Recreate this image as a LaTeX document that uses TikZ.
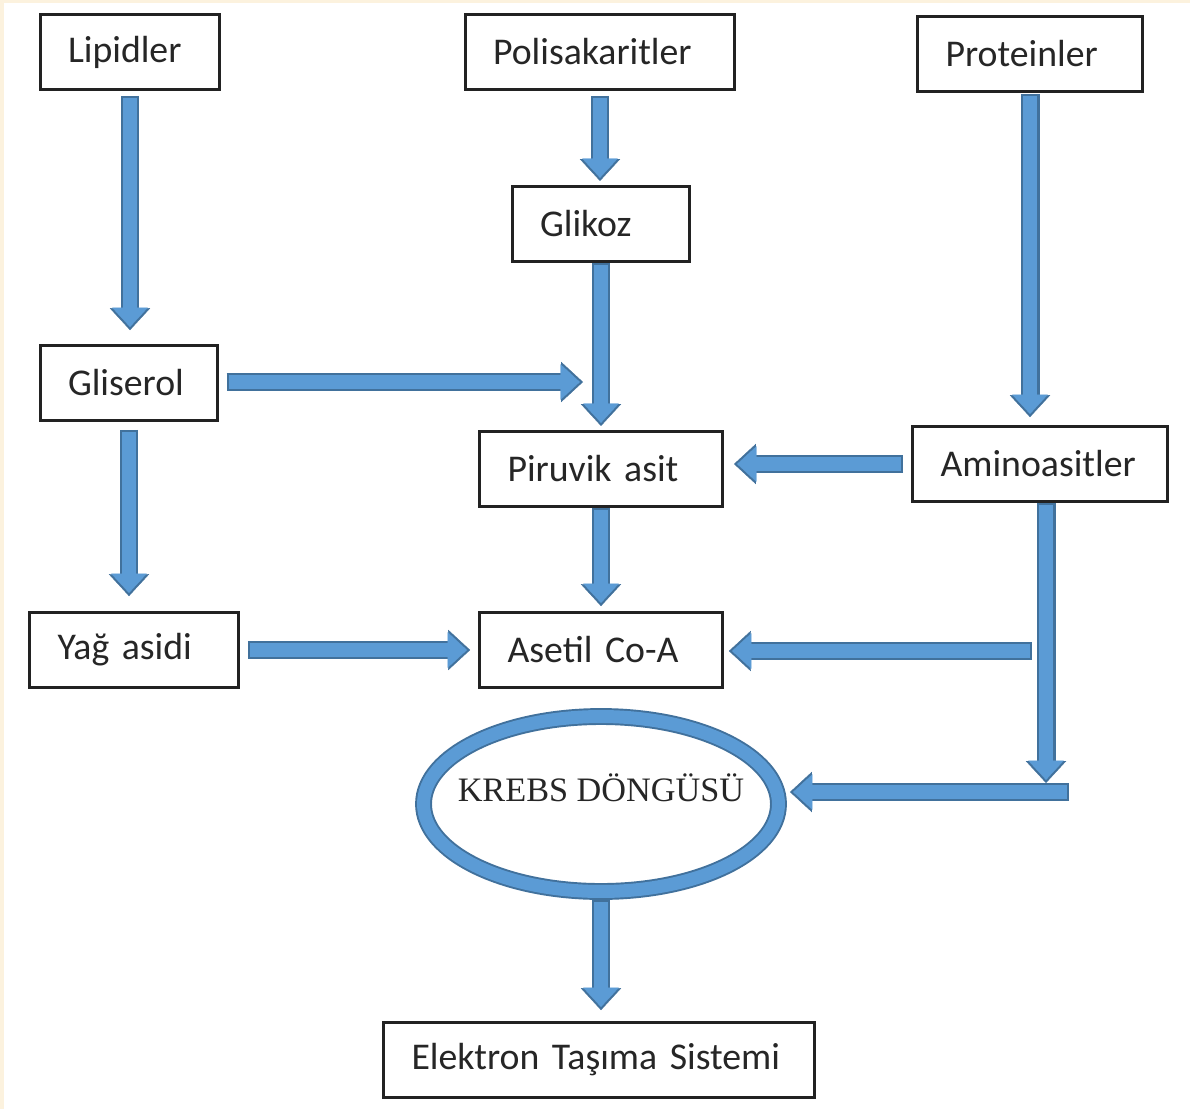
\documentclass[tikz,border=0pt]{standalone}
\usepackage{fontspec}
\setmainfont{Carlito}
\newfontfamily\krebsfont{Liberation Serif}
\usetikzlibrary{arrows.meta,shapes.geometric}
\definecolor{flowfill}{HTML}{5B9BD5}
\definecolor{flowedge}{HTML}{41719C}
\definecolor{boxline}{HTML}{222222}
\definecolor{paper}{HTML}{FCF2DE}
\tikzset{stage/.style={%
        draw=boxline,
        line width=1.7pt,
        minimum height=1.5cm,
        inner xsep=0.56cm,
        align=left,
        text=black!85,
        font=\fontsize{21.5pt}{26pt}\selectfont}}
\tikzset{krebsring/.style={%
        ellipse,
        draw=flowedge,
        line width=1.1pt,
        double=flowfill,
        double distance=7.4pt,
        minimum width=7.1cm,minimum height=3.5cm,
        inner sep=0pt}}
\tikzset{flow/.style 2 args={draw=flowedge,line width=10.8pt,
        shorten <=#1,shorten >=#2,
        -{Triangle[length=12.5pt 0 0,width=23pt 0 0,line width=0.2pt 0 0]},
        postaction={draw=flowfill,line width=8.4pt,
          shorten <=#1+1.2pt,shorten >=#2+1.77pt,
          -{Triangle[length=11pt 0 0,width=20.2pt 0 0,line width=0.2pt 0 0]}}}}

\begin{document}
\begin{tikzpicture}[x=0.02cm,y=-0.02cm]
  \useasboundingbox (0,0) rectangle (1190,1109);
  \fill [paper] (0,0) rectangle (1190,1109);
  \fill [white] (4,3) rectangle (1190,1109);

  \node [stage,text width=2.48cm] (lipid) at (130,52) {Lipidler};
  \node [stage,text width=4.28cm] (polis) at (600,52) {Polisakaritler};
  \node [stage,text width=3.38cm] (prot) at (1030,54) {Proteinler};
  \node [stage,text width=2.44cm] (glikoz) at (601,224) {Glikoz};
  \node [stage,text width=2.44cm] (glis) at (129,383) {Gliserol};
  \node [stage,text width=3.74cm] (piruvik) at (601,469) {Piruvik asit};
  \node [stage,text width=3.98cm] (amino) at (1040,464) {Aminoasitler};
  \node [stage,text width=3.06cm] (yag) at (134,650) {Yağ asidi};
  \node [stage,text width=3.74cm] (asetil) at (601,650) {Asetil Co-A};
  \node [krebsring,label={[font=\krebsfont\fontsize{19.5pt}{23pt}\selectfont,text=black!85,yshift=9pt]center:KREBS DÖNGÜSÜ}] (krebs) at (601,804) {};
  \node [stage,text width=7.5cm] (elektron) at (599,1060) {Elektron Taşıma Sistemi};

  \coordinate (glisend) at (583,382);
  \coordinate (aminodown) at (1046,783);
  \coordinate (asetilin) at (1032,651);
  \coordinate (krebsin) at (1069,792);

  \draw [flow={2.8pt}{7.9pt}] (lipid.south) -- (lipid.south |- glis.north);
  \draw [flow={2.8pt}{2.3pt}] (polis.south) -- (polis.south |- glikoz.north);
  \draw [flow={0pt}{2.3pt}] (glikoz) -- (piruvik);
  \draw [flow={0.6pt}{4.5pt}] (prot.south) -- (prot.south |- amino.north);
  \draw [flow={4pt}{0pt}] (glis.east |- glisend) -- (glisend);
  \draw [flow={4.5pt}{8.5pt}] (glis.south) -- (glis.south |- yag.north);
  \draw [flow={4.5pt}{5.7pt}] (amino.west) -- (amino.west -| piruvik.east);
  \draw [flow={0pt}{2.8pt}] (piruvik) -- (asetil);
  \draw [flow={4.5pt}{4.5pt}] (yag) -- (asetil);
  \draw [flow={0pt}{0pt}] (amino.south -| aminodown) -- (aminodown);
  \draw [flow={0pt}{2.8pt}] (asetilin) -- (asetilin -| asetil.east);
  \draw [flow={0pt}{6pt}] (krebsin) -- (krebsin -| krebs.east);
  \draw [flow={4.3pt}{6.2pt}] (krebs.south) -- (krebs.south |- elektron.north);
\end{tikzpicture}
\end{document}
